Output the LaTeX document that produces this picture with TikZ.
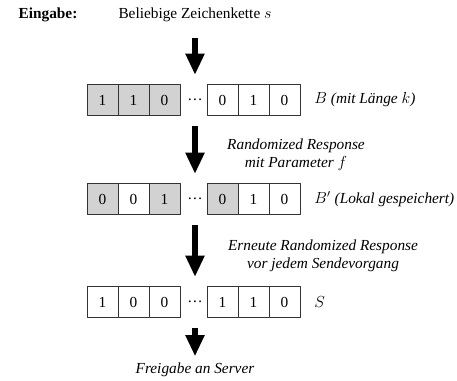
\documentclass[tikz,border=0pt]{standalone}
\usepackage{fontspec}
\setmainfont{Liberation Serif}
\usetikzlibrary{arrows.meta}
\colorlet{g}{gray!35}
\colorlet{w}{white}

\begin{document}
\fontsize{11.5}{13.5}\selectfont
\begin{tikzpicture}[x=.75pt,y=-.75pt,line join=round]
	\tikzset{cell/.style={draw=black!80,line width=.5pt,minimum width=23.25pt,minimum height=23.25pt,inner sep=0pt},
		dots/.style={minimum width=20pt,minimum height=23.25pt,inner sep=0pt},
		bigarrow/.style={line width=4.1pt,-{Triangle[width=13.5pt,length=16pt]},shorten <=8pt,shorten >=7pt},
		note/.style={font=\itshape,align=center},
		lbl/.style={anchor=west,font=\itshape}}
	\useasboundingbox (0,0) rectangle (457,381);
	\node[font=\bfseries] (eing) at (48,15) {Eingabe:};
	\node (inp) at (195,15) {Beliebige Zeichenkette $s$};
	\foreach \r/\y in {1/100,2/199,3/302}
		\node[dots] (d\r) at (195,\y) {\dots};
	% B
	\foreach \x/\v/\f [count=\i] in {102.5/1/g,133.5/1/g,164.5/0/g,222.5/0/w,253.5/1/w,284.5/0/w}
		\node[cell,fill=\f] (a\i) at (\x,100) {\v};
	% B'
	\foreach \x/\v/\f [count=\i] in {102.5/0/g,133.5/0/w,164.5/1/g,222.5/0/g,253.5/1/w,284.5/0/w}
		\node[cell,fill=\f] (b\i) at (\x,199) {\v};
	% S
	\foreach \x/\v/\f [count=\i] in {102.5/1/w,133.5/0/w,164.5/0/w,222.5/1/w,253.5/1/w,284.5/0/w}
		\node[cell,fill=\f] (c\i) at (\x,302) {\v};
	\node[lbl] (la) at ([xshift=6.5pt]a6.east) {$B$ (mit Länge $k$)};
	\node[lbl] (lb) at ([xshift=6.5pt]b6.east) {$B'$ (Lokal gespeichert)};
	\node[lbl] (lc) at ([xshift=6.5pt]c6.east) {$S$};
	\node[note] (rr) at (296,155) {Randomized Response\\mit Parameter $f$};
	\node[note] (er) at (323,256) {Erneute Randomized Response\\vor jedem Sendevorgang};
	\node[note] (out) at (195,370) {Freigabe an Server};
	\draw[bigarrow] (inp) -- (d1);
	\draw[bigarrow] (d1) -- (d2);
	\draw[bigarrow] (d2) -- (d3);
	\draw[bigarrow,shorten >=1pt] (d3) -- (out);
\end{tikzpicture}
\end{document}
